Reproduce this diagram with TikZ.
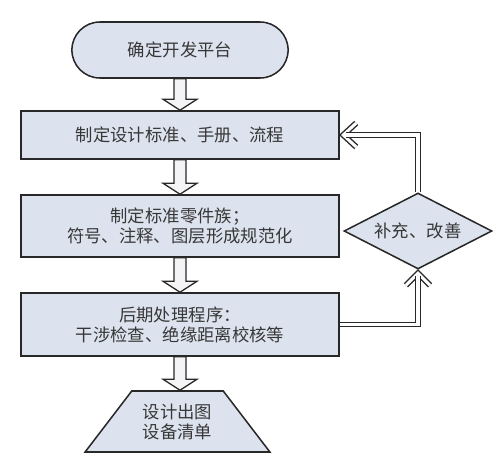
\documentclass[tikz,border=0pt]{standalone}
\usepackage{fontspec}
\setmainfont{Noto Sans CJK SC}
\usepackage{tikz}
\usetikzlibrary{positioning,calc}
\usetikzlibrary{shapes.geometric,shapes.misc}
\definecolor{boxfill}{RGB}{221,227,238}
\definecolor{boxline}{RGB}{40,40,40}
\definecolor{boxtext}{RGB}{55,55,55}
\definecolor{shaftfill}{RGB}{244,244,246}
\tikzstyle{base} = [draw=boxline, line width=1.3pt, fill=boxfill, text=boxtext, align=center, font=\fontsize{14.8}{17}\selectfont]
\tikzstyle{startstop} = [base, rounded rectangle, minimum width=6.72cm, minimum height=1.68cm]
\tikzstyle{process} = [base, rectangle, minimum width=9.54cm]
\tikzstyle{decision} = [base, diamond, aspect=1.95, minimum width=4.44cm, minimum height=2.28cm, inner sep=0pt]
\tikzstyle{output} = [base, trapezium, trapezium left angle=48, trapezium right angle=48, trapezium stretches=true, minimum width=5.55cm, minimum height=1.83cm]
\tikzstyle{blockarrow} = [draw=boxline, line width=1.1pt, fill=shaftfill, line join=miter]
\tikzstyle{loopline} = [draw=boxline, line width=1.2pt, double=white, double distance=2.6pt, line join=miter]
\newcommand{\flowarrow}[2]{%
  \draw[blockarrow] ($(#1.south)+(-6,0)$) -- ($(#1.south |- #2.north)+(-6,-11)$) -- ++(-11,0)
    -- (#1.south |- #2.north) -- ++(17,-11) -- ++(-11,0) -- ($(#1.south)+(6,0)$) -- cycle;}

\begin{document}
\begin{tikzpicture}[x=0.03cm, y=-0.03cm]
\fill[white] (0,0) rectangle (500,476);
\useasboundingbox (0,0) rectangle (500,476);
% main column
\node (start) [startstop] at (180,50) {确定开发平台};
\node (std) [process, minimum height=1.44cm] at (180,135) {制定设计标准、手册、流程};
\node (part) [process, minimum height=1.86cm] at (180,226) {制定标准零件族；\\符号、注释、图层形成规范化};
\node (post) [process, minimum height=1.89cm] at (180,324.5) {后期处理程序：\\干涉检查、绝缘距离校核等};
\node (plot) [output] at (177.5,421.5) {设计出图\\设备清单};
% feedback
\node (check) [decision] at (418,231) {补充、改善};
% arrows
\flowarrow{start}{std}
\flowarrow{std}{part}
\flowarrow{part}{post}
\flowarrow{post}{plot}
% double line loop, heads drawn by hand
\coordinate (tipA) at ($(check.south)+(0,3.5)$);
\coordinate (tipB) at ($(std.east)+(3.5,0)$);
\draw[loopline] ($(tipA)+(-12,12)$) -- (tipA) -- ++(12,12);
\draw[loopline] (post.east) -| ($(tipA)+(0,3)$);
\draw[loopline] ($(tipB)+(13,-12)$) -- (tipB) -- ++(13,12);
\draw[loopline] (check.north) |- ($(tipB)+(3,0)$);
\end{tikzpicture}
\end{document}
